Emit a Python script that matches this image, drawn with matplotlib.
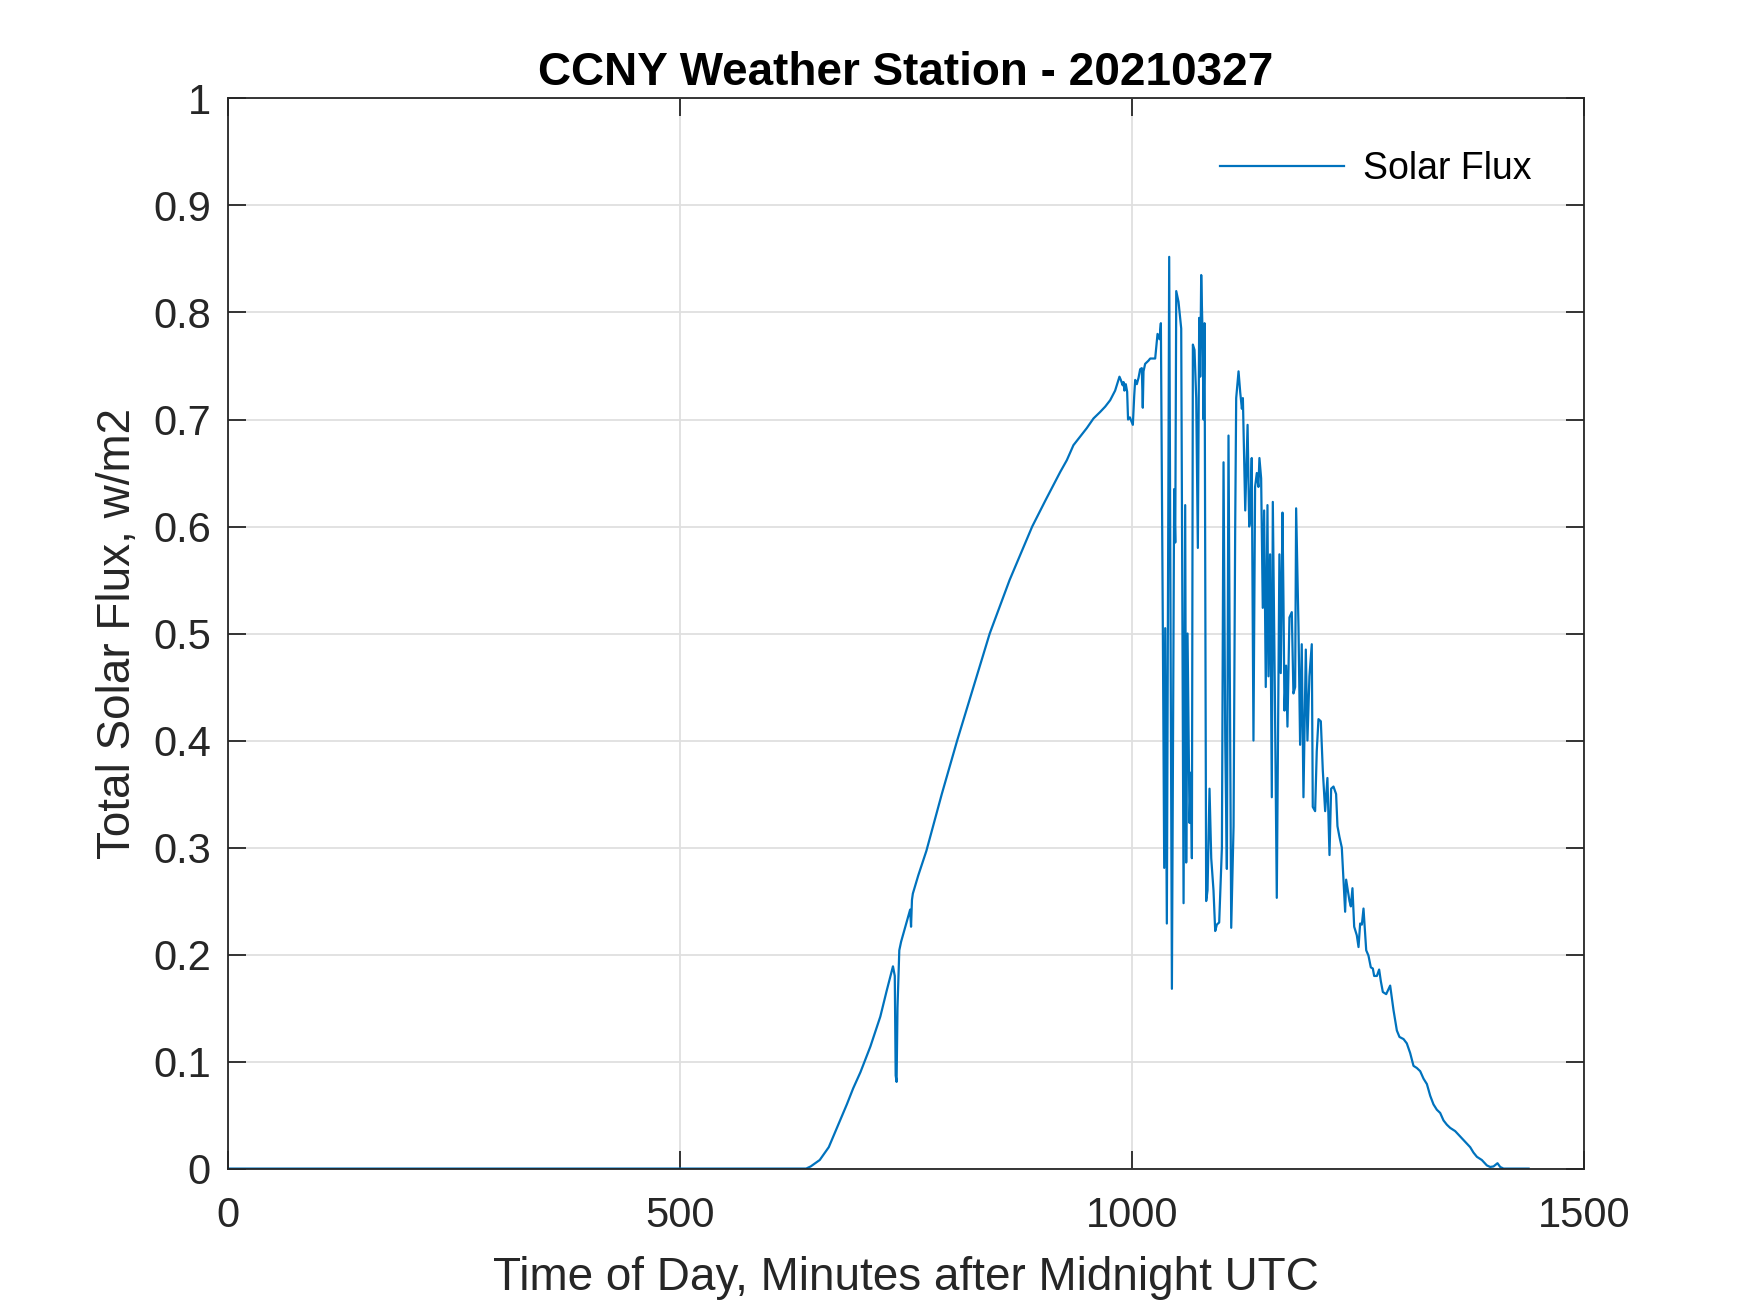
import matplotlib
matplotlib.use("Agg")
import matplotlib.pyplot as plt
from matplotlib.ticker import FixedLocator, FuncFormatter

# ---- data (minutes after midnight UTC, flux) ----
t_night = [0, 640]
v_night = [0.0, 0.0]

t_morning = [645, 655, 665, 675, 685, 692, 700, 711, 722, 729, 736, 738, 739, 740,
             741, 743, 745, 755, 756, 757, 758, 764, 773, 790, 807, 825, 843, 865,
             890, 905, 921, 928.3, 935.6, 943, 950.4, 957.8, 965.1, 970.7, 976.2,
             981.7, 986.5, 988.0, 990.0, 991.0, 992.0, 993.5, 995.0, 996.0, 998.0,
             1001.3, 1002.8, 1003.9, 1005.7, 1007.6, 1009.4, 1011.2, 1012.3, 1013.1,
             1014.9, 1018.6]
v_morning = [0.002, 0.008, 0.02, 0.04, 0.06, 0.075, 0.09, 0.114, 0.142, 0.166, 0.189,
             0.18, 0.087, 0.081, 0.15, 0.204, 0.212, 0.242, 0.226, 0.251, 0.257, 0.274,
             0.297, 0.35, 0.40, 0.45, 0.50, 0.55, 0.60, 0.625, 0.651, 0.662, 0.676,
             0.684, 0.692, 0.701, 0.707, 0.712, 0.718, 0.727, 0.740, 0.737, 0.732,
             0.735, 0.727, 0.733, 0.726, 0.700, 0.702, 0.695, 0.722, 0.737, 0.733,
             0.739, 0.747, 0.748, 0.711, 0.745, 0.752, 0.755]

t_noisy = [1020.5, 1026.0, 1028.6, 1030.8, 1032.3, 1034.5, 1036.0, 1037.1, 1038.9,
           1041.5, 1044.5, 1047.0, 1048.2, 1049.3, 1051.8, 1054.8, 1057.4, 1059.2,
           1060.3, 1061.8, 1064.0, 1065.5, 1066.6, 1067.7, 1069.5, 1071.4, 1073.2,
           1074.7, 1075.8, 1076.9, 1078.4, 1079.5, 1080.6, 1082.4, 1083.9, 1086.1,
           1088.0, 1090.5, 1092.4, 1094.2, 1096.8, 1099.8, 1101.6, 1103.5, 1105.3,
           1107.1, 1110.1, 1112.7, 1114.5, 1115.6, 1118.2, 1120.1, 1121.9, 1123.0,
           1125.6, 1128.2, 1130.0,
           1131.0, 1132.8, 1134.7, 1136.5, 1138.4, 1140.2, 1141.3, 1143.2, 1145.0,
           1146.5, 1148.3, 1150.2, 1151.3, 1153.1, 1155.0, 1156.1, 1158.3, 1160.5,
           1163.4, 1164.9, 1166.8, 1167.9, 1169.0, 1170.8, 1172.3, 1174.5, 1177.1,
           1178.9, 1180.8, 1181.9, 1184.5, 1186.3, 1188.1, 1190.0, 1192.6, 1194.4,
           1196.6, 1199.2, 1200.3, 1202.9, 1204.7, 1206.6, 1209.2, 1211.4, 1214.0,
           1216.5, 1218.8, 1220.6, 1223.2, 1226.1, 1227.6, 1229.8, 1232.4]
v_noisy = [0.757, 0.757, 0.78, 0.775, 0.79, 0.50, 0.281, 0.505, 0.229,
           0.852, 0.168, 0.635, 0.585, 0.82, 0.81, 0.785, 0.248, 0.62,
           0.286, 0.50, 0.323, 0.37, 0.29, 0.77, 0.765, 0.72, 0.58,
           0.795, 0.74, 0.835, 0.78, 0.70, 0.79, 0.25, 0.26, 0.355,
           0.29, 0.26, 0.222, 0.228, 0.23, 0.30, 0.66, 0.40, 0.28,
           0.685, 0.225, 0.32, 0.60, 0.72, 0.745, 0.725, 0.71, 0.72,
           0.615, 0.695, 0.60,
           0.606, 0.664, 0.40, 0.637, 0.65, 0.637, 0.664, 0.645, 0.524,
           0.615, 0.45, 0.62, 0.46, 0.574, 0.347, 0.623, 0.45, 0.253,
           0.574, 0.463, 0.613, 0.53, 0.428, 0.47, 0.413, 0.515, 0.52,
           0.444, 0.45, 0.617, 0.506, 0.396, 0.49, 0.347, 0.485, 0.40,
           0.46, 0.49, 0.338, 0.334, 0.39, 0.42, 0.418, 0.372, 0.334,
           0.365, 0.293, 0.355, 0.357, 0.35, 0.32, 0.31, 0.30]

t_evening = [1236.1, 1237.2, 1240.9, 1242.4, 1244.2, 1246.1, 1249.0, 1250.9, 1252.7,
             1254.6, 1256.4, 1259.4, 1261.9, 1264.5, 1266.7, 1268.2, 1271.2, 1273.7,
             1275.6, 1277.8, 1281.5, 1285.9, 1289.6, 1293.3, 1296.2, 1300.7, 1304.3,
             1308.0, 1311.7, 1315.4, 1319.1, 1322.8, 1326.5, 1330.2, 1333.8, 1337.5,
             1341.2, 1344.9, 1348.6, 1352.3, 1357.8, 1363.3, 1368.9, 1374.4, 1378.0,
             1381.8, 1387.3, 1392.8, 1396.5, 1400.2, 1404.6, 1407.6, 1411.3, 1439.0]
v_evening = [0.240, 0.27, 0.25, 0.245, 0.262, 0.226, 0.218, 0.207, 0.229,
             0.228, 0.243, 0.204, 0.199, 0.188, 0.187, 0.180, 0.180, 0.186,
             0.175, 0.165, 0.163, 0.171, 0.148, 0.129, 0.123, 0.121, 0.117,
             0.108, 0.096, 0.094, 0.091, 0.084, 0.079, 0.068, 0.060, 0.055,
             0.052, 0.045, 0.041, 0.038, 0.035, 0.030, 0.025, 0.020, 0.015,
             0.011, 0.008, 0.003, 0.0015, 0.002, 0.005, 0.0015, 0.0, 0.0]

minutes = t_night + t_morning + t_noisy + t_evening
flux = v_night + v_morning + v_noisy + v_evening

x_ticks = [0, 500, 1000, 1500]
y_ticks = [0, 0.1, 0.2, 0.3, 0.4, 0.5, 0.6, 0.7, 0.8, 0.9, 1.0]

title_text = "CCNY Weather Station - 20210327"
x_label = "Time of Day, Minutes after Midnight UTC"
y_label = "Total Solar Flux, w/m2"
series_name = "Solar Flux"

# ---- styling (MATLAB-like) ----
plt.rcParams['font.family'] = ['Liberation Sans', 'DejaVu Sans']
axis_color = '#262626'

fig = plt.figure(figsize=(17.5, 13.13), dpi=100)
ax = fig.add_axes([0.13, 0.11, 0.775, 0.815])

ax.plot(minutes, flux, color='#0072BD', lw=1.6, label=series_name)

ax.set_xlim(0, 1500)
ax.set_ylim(0, 1)
ax.xaxis.set_major_locator(FixedLocator(x_ticks))
ax.yaxis.set_major_locator(FixedLocator(y_ticks))
ax.yaxis.set_major_formatter(FuncFormatter(lambda v, p: f"{v:g}"))

ax.grid(True, color='#dfdfdf', lw=1.3)
ax.set_axisbelow(True)
for s in ax.spines.values():
    s.set_color(axis_color)
    s.set_linewidth(1.3)
ax.tick_params(direction='in', length=13, width=1.3, colors=axis_color,
               top=True, right=True, labelsize=30)
ax.tick_params(axis='x', pad=20)
ax.tick_params(axis='y', pad=12)
for lbl in ax.get_xticklabels() + ax.get_yticklabels():
    lbl.set_color(axis_color)

ax.set_xlabel(x_label, fontsize=33, color=axis_color, labelpad=14)
ax.set_ylabel(y_label, fontsize=33, color=axis_color, labelpad=9)
ax.set_title(title_text, fontsize=33, fontweight='bold', color='black', pad=10)

leg = ax.legend(loc='upper right', frameon=False, fontsize=27, handlelength=3.3,
                handletextpad=0.5, borderaxespad=1.0)
for txt in leg.get_texts():
    txt.set_color('black')

fig.savefig("out.png", dpi=100, facecolor='white')
